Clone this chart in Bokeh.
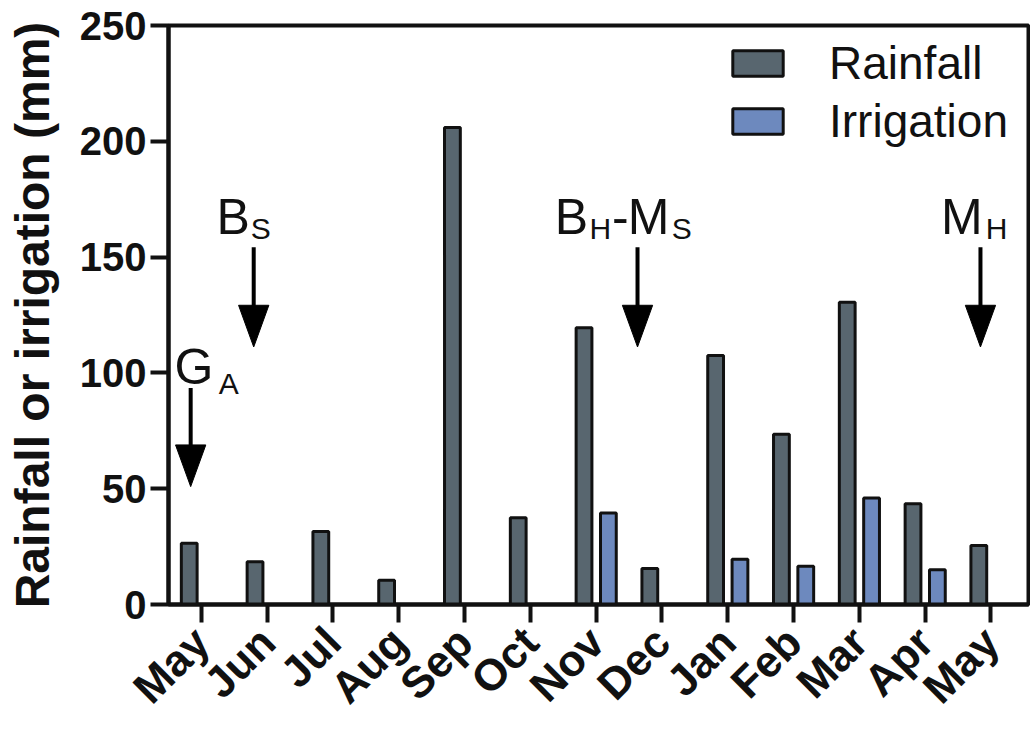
import numpy as np
from bokeh.plotting import figure
from bokeh.models import ColumnDataSource, FixedTicker, Legend, LegendItem, Range1d
from bokeh.core.properties import value
from bokeh.embed import file_html
from bokeh.resources import INLINE

# ---- data ----
months = ["May", "Jun", "Jul", "Aug", "Sep", "Oct", "Nov", "Dec",
          "Jan", "Feb", "Mar", "Apr", "May"]
rainfall = [26.5, 18.5, 31.5, 10.5, 206, 37.5, 119.5, 15.5, 107.5, 73.5, 130.5, 43.5, 25.5]
irrigation = [0, 0, 0, 0, 0, 0, 39.5, 0, 19.5, 16.5, 46, 15, 0]
y_ticks = [0, 50, 100, 150, 200, 250]

# event arrows (x in month-index units, y in mm)
event_names = ["GA", "BS", "BH-MS", "MH"]
arrow_x = [-0.163, 0.795, 6.628, 11.84]
arrow_top = [93.5, 154.3, 154.3, 154.3]
arrow_tip = [50.9, 111.2, 111.2, 111.2]

# text pieces of the event labels (main letters and subscripts)
seg_text = ["G", "A", "B", "S", "B", "H", "-", "M", "S", "M", "H"]
seg_x = [-0.41, 0.263, 0.23, 0.75, 5.37, 5.90, 6.24, 6.48, 7.15, 11.24, 11.92]
seg_y = [102.6, 95.5, 167.5, 162.5, 167.5, 162.5, 167.5, 167.5, 162.5, 167.5, 162.5]
seg_sub = [False, True, False, True, False, True, False, False, True, False, True]

FONT = "Liberation Sans"
RAIN_COLOR = "#58666f"
IRR_COLOR = "#6d89be"

x = np.arange(len(months))
off = 0.185
bw = 0.24

p = figure(width=1030, height=732, output_backend="svg", toolbar_location=None,
           x_range=Range1d(-0.5, 12.57), y_range=Range1d(0, 250),
           min_border_left=168, min_border_right=2, min_border_top=25,
           min_border_bottom=127)

rain_src = ColumnDataSource(dict(x=x - off, top=rainfall))
irr_idx = [i for i, v in enumerate(irrigation) if v > 0]
irr_src = ColumnDataSource(dict(x=[x[i] + off for i in irr_idx],
                                top=[irrigation[i] for i in irr_idx]))

r1 = p.vbar(x="x", top="top", width=bw, bottom=0, source=rain_src,
            fill_color=RAIN_COLOR, line_color="#111111", line_width=3)
r2 = p.vbar(x="x", top="top", width=bw, bottom=0, source=irr_src,
            fill_color=IRR_COLOR, line_color="#111111", line_width=3)

# arrows: shaft + head
head_len = 18.0
head_hw = 0.23
p.segment(x0=arrow_x, y0=arrow_top, x1=arrow_x,
          y1=[t + head_len - 1 for t in arrow_tip], line_color="black", line_width=4)
xs = [[ax - head_hw, ax + head_hw, ax] for ax in arrow_x]
ys = [[t + head_len, t + head_len, t] for t in arrow_tip]
p.patches(xs=xs, ys=ys, fill_color="black", line_color="black", line_width=1)

# event labels
main_i = [i for i, s in enumerate(seg_sub) if not s]
sub_i = [i for i, s in enumerate(seg_sub) if s]
p.text(x=[seg_x[i] for i in main_i], y=[seg_y[i] for i in main_i],
       text=[seg_text[i] for i in main_i], text_font=value(FONT),
       text_font_size="50px", text_baseline="alphabetic", text_align="left",
       text_color="#111111")
p.text(x=[seg_x[i] for i in sub_i], y=[seg_y[i] for i in sub_i],
       text=[seg_text[i] for i in sub_i], text_font=value(FONT),
       text_font_size="30px", text_baseline="alphabetic", text_align="left",
       text_color="#111111")

# legend (absolute position: bottom-left of legend box from frame bottom-left)
legend = Legend(items=[LegendItem(label="Rainfall", renderers=[r1]),
                       LegendItem(label="Irrigation", renderers=[r2])],
                location=(554, 452))
legend.label_text_font = FONT
legend.label_text_font_size = "46px"
legend.label_text_color = "#111111"
legend.glyph_width = 63
legend.glyph_height = 32
legend.label_height = 54
legend.label_standoff = 40
legend.spacing = 4
legend.padding = 4
legend.margin = 0
legend.border_line_alpha = 0
legend.background_fill_alpha = 0
p.add_layout(legend)

# axes styling
p.xgrid.visible = False
p.ygrid.visible = False
p.outline_line_color = "#111111"
p.outline_line_width = 4
p.outline_line_alpha = 1

p.xaxis.ticker = FixedTicker(ticks=list(x))
p.xaxis.major_label_overrides = {int(i): m for i, m in zip(x, months)}
p.xaxis.major_label_orientation = np.pi / 4
p.yaxis.ticker = FixedTicker(ticks=y_ticks)

for ax in (p.xaxis, p.yaxis):
    ax.axis_line_width = 4
    ax.axis_line_color = "#111111"
    ax.major_tick_line_width = 4
    ax.major_tick_line_color = "#111111"
    ax.major_tick_in = 0
    ax.major_tick_out = 18
    ax.minor_tick_line_color = None
    ax.major_label_text_font = FONT
    ax.major_label_text_font_style = "bold"
    ax.major_label_text_color = "#111111"
    ax.major_label_standoff = 4

p.yaxis.major_label_text_font_size = "40px"
p.xaxis.major_label_text_font_size = "44px"
p.xaxis.major_label_standoff = 12

p.yaxis.axis_label = "Rainfall or irrigation (mm)"
p.yaxis.axis_label_text_font = FONT
p.yaxis.axis_label_text_font_style = "bold"
p.yaxis.axis_label_text_font_size = "48px"
p.yaxis.axis_label_text_color = "#111111"
p.yaxis.axis_label_standoff = 18

open("out.html", "w").write(file_html(p, INLINE))
